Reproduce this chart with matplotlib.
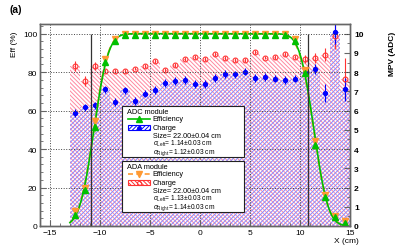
import math
import numpy as np
import matplotlib
matplotlib.use('Agg')
import matplotlib.pyplot as plt
from matplotlib.patches import Rectangle
from matplotlib.lines import Line2D

plt.rcParams['font.family'] = ['Liberation Sans', 'DejaVu Sans']
plt.rcParams['mathtext.fontset'] = 'custom'
plt.rcParams['mathtext.rm'] = 'Liberation Sans'
plt.rcParams['mathtext.it'] = 'Liberation Sans:italic'
plt.rcParams['hatch.linewidth'] = 0.7

# bin centres (cm)
x_pos = np.arange(-12.5, 15.0, 1.0)

# efficiency (%)
eff_adc = [5.8, 18.6, 51.6, 85.3, 96.0] + [99.5] * 17 + [96.0, 79.6, 42.0, 15.2, 4.5, 1.5]
eff_ada = [7.6, 20.0, 54.5, 87.0, 97.0] + [99.8] * 17 + [97.0, 81.0, 44.0, 16.0, 5.0, 2.7]
eff_err = [1.0, 1.5, 2.0, 1.5, 1.0] + [0.4] * 17 + [1.0, 1.5, 2.0, 1.5, 1.0, 0.5]

# charge MPV (ADC)
mpv_adc = [5.89, 6.17, 6.27, 7.10, 6.44, 7.05, 6.51, 6.89, 7.06, 7.45, 7.55, 7.60, 7.37,
           7.39, 7.68, 7.91, 7.88, 8.03, 7.68, 7.74, 7.67, 7.60, 7.67, 8.03, 8.17, 6.93,
           10.09, 7.10]
mpv_adc_err = [0.2] * 24 + [0.25, 0.47, 0.6, 0.6]
mpv_ada = [8.31, 7.56, 8.31, 8.05, 8.08, 8.08, 8.19, 8.31, 8.57, 8.10, 8.38, 8.67, 8.81,
           8.69, 8.95, 8.72, 8.65, 8.65, 9.07, 8.76, 8.79, 8.93, 8.79, 8.69, 8.74, 8.91,
           9.90, 7.67]
mpv_ada_err = [0.26, 0.26, 0.2] + [0.1] * 20 + [0.2, 0.25, 0.35, 0.72, 1.08]

# fit results (size, sigma left, sigma right, centre)
fit_adc = dict(size=22.00, sl=1.14, sr=1.12, c=0.40)
fit_ada = dict(size=22.00, sl=1.13, sr=1.14, c=0.38)
edges = [-10.9, 10.8]

lines_adc = ['Size= 22.00±0.04 cm', '$\\sigma_{\\rm Left}$= 1.14±0.03 cm',
             '$\\sigma_{\\rm Right}$= 1.12±0.03 cm']
lines_ada = ['Size= 22.00±0.04 cm', '$\\sigma_{\\rm Left}$= 1.13±0.03 cm',
             '$\\sigma_{\\rm Right}$= 1.14±0.03 cm']

GREEN = '#00c000'
ORANGE = '#ff9933'
BLUE = '#0000ff'
RED = '#ff3333'
HATCH_B = '/' * 8
HATCH_R = '\\' * 8
W, H = 399, 253


def eff_model(x, p):
    erf = np.vectorize(math.erf)
    xl = p['c'] - p['size'] / 2
    xr = p['c'] + p['size'] / 2
    return 50.0 * (erf((x - xl) / (np.sqrt(2) * p['sl'])) - erf((x - xr) / (np.sqrt(2) * p['sr'])))


def fx(px):
    return px / W


def fy(py):
    return 1 - py / H


def legend_box(fig, top, title, line_kw, mark_kw, chg_color, chg_hatch, dot_kw, texts):
    """ROOT-like legend box drawn in figure pixels."""
    tf = fig.transFigure
    fig.add_artist(Rectangle((fx(122.3), fy(top + 51)), fx(122), 51 / H, transform=tf,
                             fc='white', ec='#222222', lw=0.8, zorder=5))
    rows = [top + 5.4, top + 12.7, top + 21.5, top + 29.2, top + 36.6, top + 45.6]
    fig.text(fx(127.3), fy(rows[0]), title, fontsize=5.3, va='center', zorder=7)
    # efficiency symbol
    fig.add_artist(Line2D([fx(128.3), fx(150)], [fy(rows[1])] * 2, transform=tf, zorder=6,
                          **line_kw))
    fig.add_artist(Line2D([fx(139.2)] * 2, [fy(rows[1] - 3), fy(rows[1] + 3)], transform=tf,
                          color=mark_kw['color'], lw=0.8, zorder=6))
    fig.add_artist(Line2D([fx(139.2)], [fy(rows[1])], transform=tf, ls='none', zorder=7,
                          **mark_kw))
    # charge symbol
    fig.add_artist(Rectangle((fx(128.3), fy(rows[2] + 2.5)), fx(21.7), 5 / H, transform=tf,
                             fc='white', ec=chg_color, hatch=chg_hatch, lw=0.8, zorder=6))
    fig.add_artist(Line2D([fx(139.2)], [fy(rows[2])], transform=tf, ls='none', zorder=7, **dot_kw))
    labels = ['Efficiency', 'Charge'] + texts
    sizes = [5.3, 5.3, 5.2, 4.8, 4.8]
    for r, t, s in zip(rows[1:], labels, sizes):
        fig.text(fx(152.7), fy(r), t, fontsize=s, va='center', zorder=7)


fig = plt.figure(figsize=(3.99, 2.53), dpi=100)
ax = fig.add_axes([0.100, 0.1028, 0.777, 0.798])
ax2 = ax.twinx()
ax.set_zorder(ax2.get_zorder() + 1)
ax.patch.set_visible(False)

# charge histograms + points on right axis
ax2.bar(x_pos, mpv_ada, width=1.0, fill=False, hatch=HATCH_R, edgecolor='#ff88a0', linewidth=0)
ax2.bar(x_pos, mpv_adc, width=1.0, fill=False, hatch=HATCH_B, edgecolor='#8888ff', linewidth=0)
ax2.errorbar(x_pos, mpv_ada, yerr=mpv_ada_err, fmt='o', ms=3.5, mfc='none', mec=RED, mew=0.8,
             ecolor=RED, elinewidth=0.8, capsize=0)
ax2.errorbar(x_pos, mpv_adc, yerr=mpv_adc_err, fmt='o', ms=2.8, color=BLUE,
             elinewidth=0.8, capsize=0)

# efficiency
xf = np.linspace(-13.0, 14.7, 300)
ax.plot(xf, eff_model(xf, fit_ada), color=ORANGE, lw=1.2, ls=(0, (5, 3)))
ax.plot(xf, eff_model(xf, fit_adc), color=GREEN, lw=1.2)
ax.errorbar(x_pos, eff_ada, yerr=eff_err, fmt='v', ms=5, color=ORANGE, elinewidth=0.8, capsize=0)
ax.errorbar(x_pos, eff_adc, yerr=eff_err, fmt='^', ms=5, color=GREEN, elinewidth=0.8, capsize=0)
ax.vlines(edges, 0, 100, color='#333333', lw=0.9)

ax.set_xlim(-16, 15)
ax.set_ylim(0, 105)
ax2.set_ylim(0, 10.5)
ax.set_xticks(np.arange(-15, 16, 5))
ax.set_xticks(np.arange(-16, 16, 1), minor=True)
ax.set_yticks(np.arange(0, 101, 20))
ax.set_yticks(np.arange(0, 105, 4), minor=True)
ax2.set_yticks(np.arange(0, 11, 1))
ax2.set_yticks(np.arange(0, 10.5, 0.5), minor=True)
ax.grid(True, which='major', ls=':', color='#444444', lw=0.7)

for a in (ax, ax2):
    for s in a.spines.values():
        s.set_color('#666666')
        s.set_linewidth(1.0)
ax.tick_params(which='both', direction='in', labelsize=6, color='#666666', pad=2)
ax.tick_params(which='major', length=4)
ax.tick_params(which='minor', length=2)
ax2.tick_params(which='both', direction='in', labelsize=6, color='#666666', pad=3)
ax2.tick_params(which='major', length=4)
ax2.tick_params(which='minor', length=2)
for t in ax2.get_yticklabels():
    t.set_fontweight('bold')

ax.set_ylabel('Eff (%)', fontsize=6, loc='top')
ax.yaxis.set_label_coords(-0.072, 0.97)
ax2.set_ylabel('MPV (ADC)', fontsize=6, fontweight='bold', loc='top')
ax2.yaxis.set_label_coords(1.125, 0.965)
ax.set_xlabel('X (cm)', fontsize=6, loc='right')
ax.xaxis.set_label_coords(1.03, -0.055)
fig.text(0.025, 0.96, '(a)', fontsize=7.5, fontweight='bold', va='center')

# legends
legend_box(fig, 107.3, 'ADC module', dict(color=GREEN, lw=1.2),
           dict(color=GREEN, marker='^', ms=4.5), BLUE, HATCH_B,
           dict(color=BLUE, marker='o', ms=2.5), lines_adc)
legend_box(fig, 162.3, 'ADA module', dict(color=ORANGE, lw=1.2, ls=(0, (3, 2))),
           dict(color=ORANGE, marker='v', ms=4.5), RED, HATCH_R,
           dict(color=RED, marker='o', ms=3, mfc='none', mew=0.7), lines_ada)

fig.savefig('out.png', dpi=100)
